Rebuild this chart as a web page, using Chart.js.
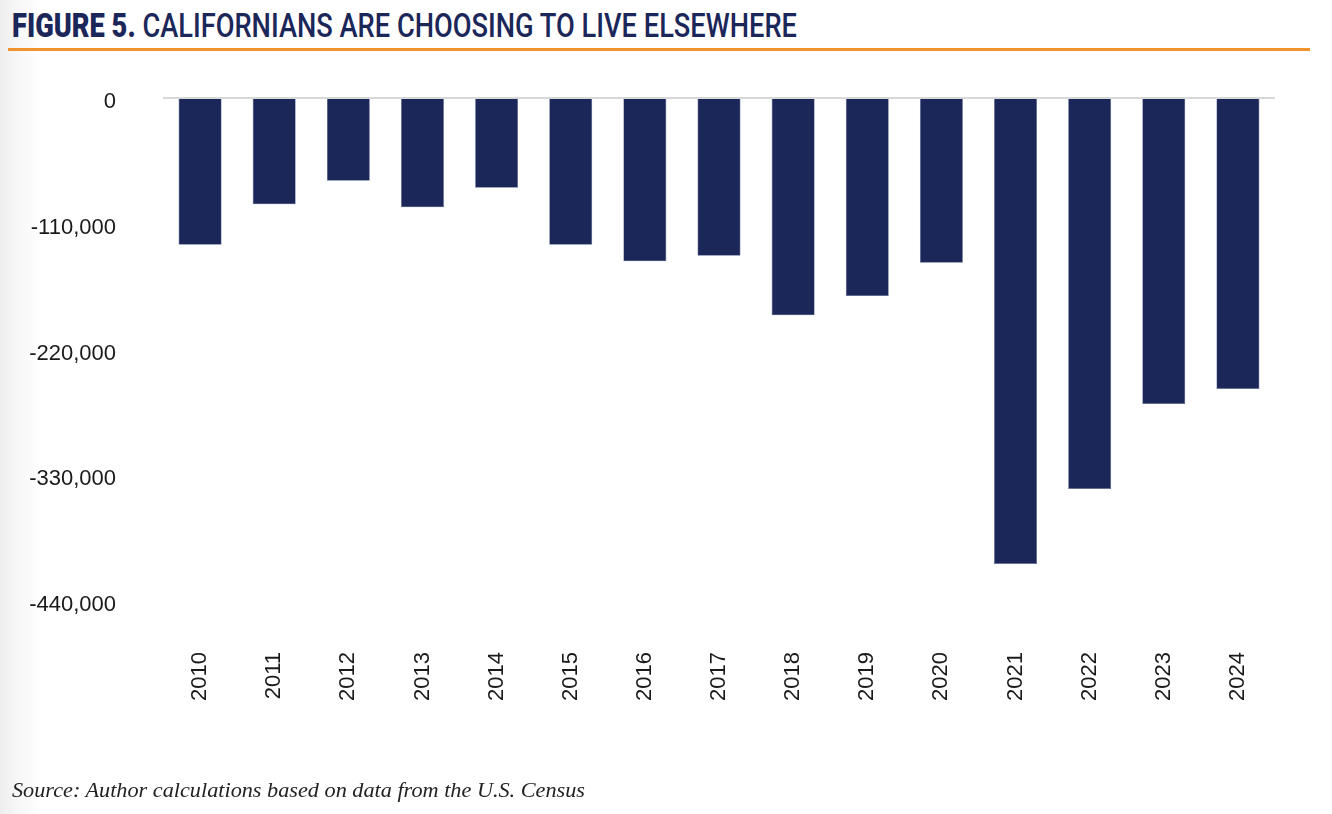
<!DOCTYPE html>
<html>
<head>
<meta charset="utf-8">
<script src="https://cdn.jsdelivr.net/npm/chart.js@4"></script>
<style>
  html, body { margin: 0; padding: 0; }
  body {
    width: 1332px; height: 814px; overflow: hidden; position: relative;
    background: linear-gradient(to right, #eeeeee 0px, #f7f7f7 18px, #ffffff 42px);
  }
  #wrap { position: absolute; left: 0; top: 0; width: 1332px; height: 814px; }
  #title {
    position: absolute; left: 12px; top: 7px; white-space: nowrap;
    color: #1b2659; font-family: Roboto, "Liberation Sans", Arial, sans-serif;
    font-size: 33px; line-height: 38px; transform-origin: left top;
  }
  #title b { font-weight: 900; }
  #title span { font-weight: 500; }
  #rule { position: absolute; left: 8px; top: 48px; width: 1302px; height: 3px; background: #f0952d; }
  #source {
    position: absolute; left: 12px; top: 777px; white-space: nowrap;
    font-family: "Liberation Serif", "Times New Roman", serif; font-style: italic;
    font-size: 22px; color: #222; transform-origin: left top;
  }
</style>
</head>
<body>
<div id="title"><b>FIGURE 5.</b> <span>CALIFORNIANS ARE CHOOSING TO LIVE ELSEWHERE</span></div>
<div id="rule"></div>
<div id="wrap"><canvas id="c" width="1332" height="814"></canvas></div>
<div id="source">Source: Author calculations based on data from the U.S. Census</div>
<script>
const years = ["2010","2011","2012","2013","2014","2015","2016","2017","2018","2019","2020","2021","2022","2023","2024"];
const netMigration = [-128300,-93000,-72300,-95600,-78500,-128300,-142800,-137900,-190100,-173200,-144100,-407600,-342000,-267700,-254500];
const yTicks = [0,-110000,-220000,-330000,-440000];

// fit title and source widths (condensed look)
function fitWidth(id, target) {
  const el = document.getElementById(id);
  const w = el.getBoundingClientRect().width;
  el.style.transform = 'scaleX(' + (target / w) + ')';
}
fitWidth('title', 785);
fitWidth('source', 573);

Chart.defaults.font.family = '"Liberation Sans", Arial, sans-serif';
new Chart(document.getElementById('c'), {
  type: 'bar',
  data: {
    labels: years,
    datasets: [{
      data: netMigration,
      backgroundColor: '#1b2659',
      borderColor: '#5a6590',
      borderWidth: 0.6,
      categoryPercentage: 1.0,
      barPercentage: 0.58
    }]
  },
  options: {
    responsive: false,
    animation: false,
    events: [],
    layout: { padding: { top: 98, right: 57, left: 0, bottom: 93 } },
    plugins: { legend: { display: false }, tooltip: { enabled: false } },
    scales: {
      x: {
        grid: { display: false, drawTicks: false },
        border: { display: false },
        ticks: {
          color: '#1a1a1a', font: { size: 22 }, minRotation: 90, maxRotation: 90,
          padding: 51, autoSkip: false
        },
        afterFit: s => { s.height = 120; }
      },
      y: {
        min: yTicks[yTicks.length - 1], max: yTicks[0],
        afterBuildTicks: s => { s.ticks = yTicks.map(v => ({ value: v })); },
        grid: {
          drawTicks: false,
          color: c => (c.tick && c.tick.value === 0) ? '#d8d8d8' : 'rgba(0,0,0,0)',
          lineWidth: 2
        },
        border: { display: false },
        ticks: {
          color: '#1a1a1a', font: { size: 22 }, padding: 47, labelOffset: 4,
          callback: v => Number(v).toLocaleString('en-US')
        },
        afterFit: s => { s.width = 163; }
      }
    }
  }
});
</script>
</body>
</html>
